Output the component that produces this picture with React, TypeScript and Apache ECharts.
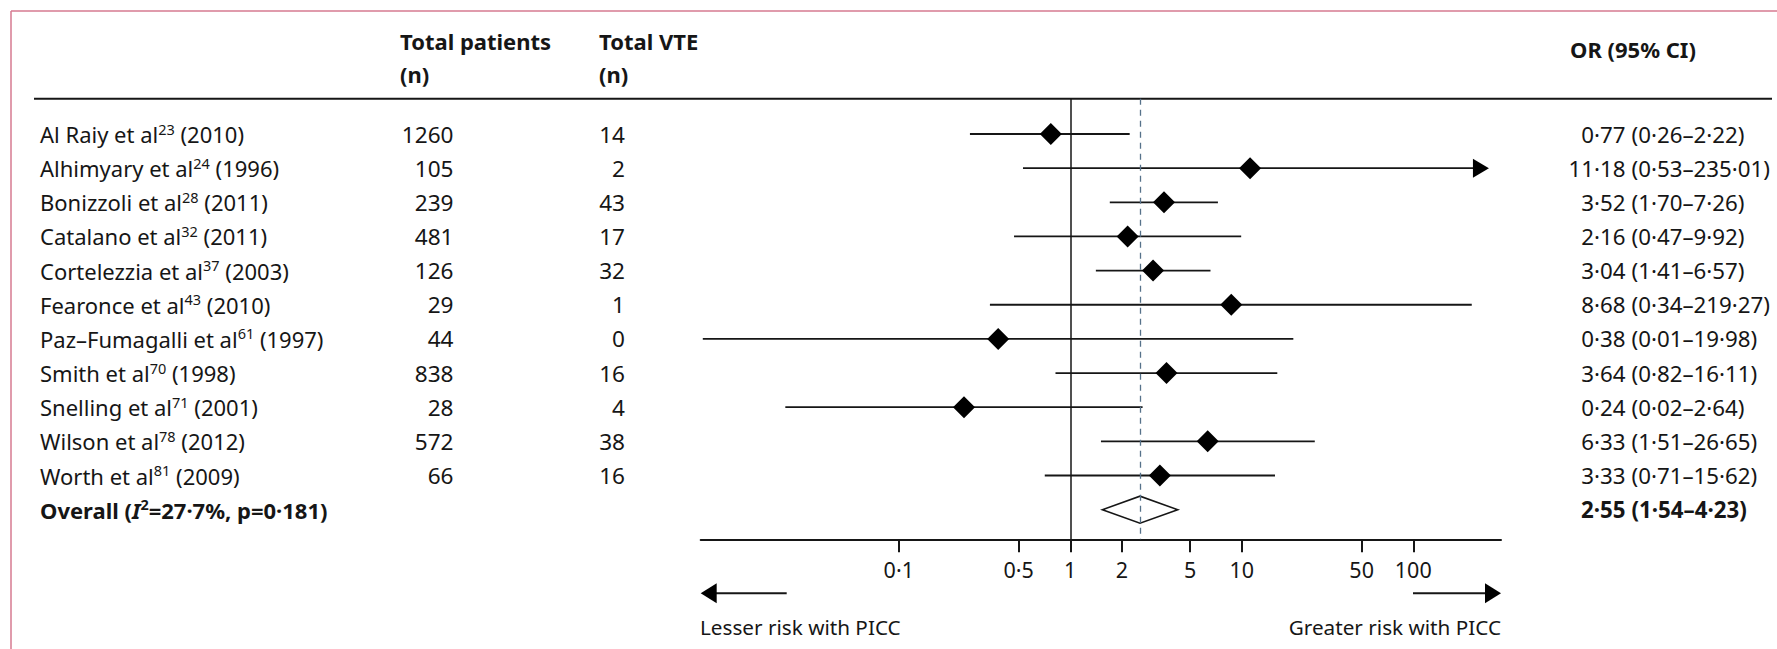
import React, { useEffect, useRef } from 'react';
import * as echarts from 'echarts';

const FONT = 'Noto Sans';
const INK = '#161616';
const FS = 22;
const FS_NUM = 22.6;
const FS_OR = 22.3;

const studyNames = [
  'Al Raiy et al', 'Alhimyary et al', 'Bonizzoli et al', 'Catalano et al', 'Cortelezzia et al',
  'Fearonce et al', 'Paz–Fumagalli et al', 'Smith et al', 'Snelling et al', 'Wilson et al', 'Worth et al',
];
const refNumbers = ['23', '24', '28', '32', '37', '43', '61', '70', '71', '78', '81'];
const studyYears = ['2010', '1996', '2011', '2011', '2003', '2010', '1997', '1998', '2001', '2012', '2009'];
const totalPatients = [1260, 105, 239, 481, 126, 29, 44, 838, 28, 572, 66];
const totalVTE = [14, 2, 43, 17, 32, 1, 0, 16, 4, 38, 16];
const oddsRatios = [0.77, 11.18, 3.52, 2.16, 3.04, 8.68, 0.38, 3.64, 0.24, 6.33, 3.33];
const ciLower = [0.26, 0.53, 1.7, 0.47, 1.41, 0.34, 0.0072, 0.82, 0.0218, 1.51, 0.71];
const ciUpper = [2.22, 235.01, 7.26, 9.92, 6.57, 219.27, 19.98, 16.11, 2.64, 26.65, 15.62];
const arrowUpper = [false, true, false, false, false, false, false, false, false, false, false];
const overallOR = 2.55;
const overallLower = 1.54;
const overallUpper = 4.23;
const overallI2 = '27·7%';
const overallP = '0·181';
const xTickValues = [0.1, 0.5, 1, 2, 5, 10, 50, 100];
const xRange = [0.007, 324.7];

const fmt = (v: number) => v.toFixed(2).replace('.', '·');
const lg = (v: number) => Math.log10(v);
const nRows = studyNames.length;
const rowIdx = Array.from({ length: nRows + 1 }, (_, i) => i);

const baseText = { fontFamily: FONT, fontSize: FS, color: INK, lineHeight: 26 };
const supText = { fontFamily: FONT, fontSize: 14.5, color: INK, lineHeight: 20, verticalAlign: 'top' };
const orText = { fontFamily: FONT, fontSize: FS_OR, color: INK, lineHeight: 26 };
const richStyles = {
  n: baseText,
  s: supText,
  b: { ...baseText, fontWeight: 'bold' },
  bi: { ...baseText, fontWeight: 'bold', fontStyle: 'italic' },
  bs: { ...supText, fontWeight: 'bold' },
  o: orText,
  ob: { ...orText, fontWeight: 'bold' },
};

const yCommon = {
  type: 'value',
  min: -1.0337,
  max: 11.868,
  inverse: true,
  axisLine: { show: false },
  axisTick: { show: false },
  splitLine: { show: false },
};

export default function App() {
  const ref = useRef<HTMLDivElement>(null);
  useEffect(() => {
    if (!ref.current) return;
    const chart = echarts.init(ref.current, undefined, { renderer: 'svg' });

    const forestData = studyNames.map((_, i) => [
      lg(oddsRatios[i]), lg(ciLower[i]), lg(ciUpper[i]), i, arrowUpper[i] ? 1 : 0, 0,
    ]);
    forestData.push([lg(overallOR), lg(overallLower), lg(overallUpper), nRows, 0, 1]);

    const nameLabel = (v: number) => {
      const i = Math.round(v);
      if (i < nRows) return `{n|${studyNames[i]}}{s|${refNumbers[i]}}{n| (${studyYears[i]})}`;
      if (i === nRows) return `{b|Overall (}{bi|I}{bs|2}{b|=${overallI2}, p=${overallP})}`;
      return '';
    };
    const colLabel = (arr: (number | string)[]) => (v: number) => {
      const i = Math.round(v);
      return i < arr.length ? String(arr[i]) : '';
    };
    const orLabel = (v: number) => {
      const i = Math.round(v);
      if (i < nRows) return `{o|${fmt(oddsRatios[i])}}`;
      if (i === nRows) return `{ob|${fmt(overallOR)}}`;
      return '';
    };
    const ciLabel = (v: number) => {
      const i = Math.round(v);
      if (i < nRows) return `{o|(${fmt(ciLower[i])}–${fmt(ciUpper[i])})}`;
      if (i === nRows) return `{ob|(${fmt(overallLower)}–${fmt(overallUpper)})}`;
      return '';
    };

    const gridLeft = 700.7;
    const gridRight = 1777 - 1501;
    const headStyle = { fontFamily: FONT, fontSize: FS, fontWeight: 'bold', fill: INK, textVerticalAlign: 'middle' };

    const option = {
      animation: false,
      backgroundColor: '#ffffff',
      grid: { left: gridLeft, right: gridRight, top: 98.7, bottom: 649 - 539.3, containLabel: false },
      xAxis: {
        type: 'value',
        position: 'bottom',
        min: lg(xRange[0]),
        max: lg(xRange[1]),
        axisLine: { show: true, onZero: false, lineStyle: { color: INK, width: 2 } },
        axisTick: {
          show: true,
          length: 13,
          customValues: xTickValues.map(lg),
          lineStyle: { color: INK, width: 2 },
        },
        axisLabel: {
          show: true,
          customValues: xTickValues.map(lg),
          margin: 19,
          fontFamily: FONT,
          fontSize: 21.5,
          color: INK,
          formatter: (v: number) => String(Number(Math.pow(10, v).toPrecision(6))).replace('.', '·'),
        },
        splitLine: { show: false },
      },
      yAxis: [
        {
          ...yCommon,
          position: 'left',
          axisLabel: {
            customValues: rowIdx, align: 'left', margin: gridLeft - 40,
            formatter: nameLabel, rich: richStyles,
          },
        },
        {
          ...yCommon,
          position: 'left',
          axisLabel: {
            customValues: rowIdx, align: 'right', margin: gridLeft - 453.5,
            formatter: colLabel(totalPatients), fontFamily: FONT, fontSize: FS_NUM, color: INK,
          },
        },
        {
          ...yCommon,
          position: 'left',
          axisLabel: {
            customValues: rowIdx, align: 'right', margin: gridLeft - 625,
            formatter: colLabel(totalVTE), fontFamily: FONT, fontSize: FS_NUM, color: INK,
          },
        },
        {
          ...yCommon,
          position: 'right',
          axisLabel: {
            customValues: rowIdx, align: 'right', margin: 1625.5 - 1501,
            formatter: orLabel, rich: richStyles,
          },
        },
        {
          ...yCommon,
          position: 'right',
          axisLabel: {
            customValues: rowIdx, align: 'left', margin: 1631.5 - 1501,
            formatter: ciLabel, rich: richStyles,
          },
        },
      ],
      series: [
        {
          type: 'line',
          data: [],
          z: 1,
          silent: true,
          markLine: {
            silent: true,
            symbol: ['none', 'none'],
            label: { show: false },
            animation: false,
            data: [
              { xAxis: lg(1), lineStyle: { color: INK, width: 1.5, type: 'solid' } },
              { xAxis: lg(overallOR), lineStyle: { color: '#56728a', width: 1.3, type: [6, 5] } },
            ],
          },
        },
        {
          type: 'custom',
          z: 3,
          silent: true,
          data: forestData,
          renderItem: (_params: any, api: any) => {
            const row = api.value(3);
            const c = api.coord([api.value(0), row]);
            const lo = api.coord([api.value(1), row]);
            const hi = api.coord([api.value(2), row]);
            const y = c[1];
            if (api.value(5) === 1) {
              return {
                type: 'polygon',
                shape: { points: [[lo[0], y], [c[0], y - 13.5], [hi[0], y], [c[0], y + 13.5]] },
                style: { fill: '#ffffff', stroke: INK, lineWidth: 1.6 },
              };
            }
            const children: any[] = [
              { type: 'line', shape: { x1: lo[0], y1: y, x2: hi[0], y2: y }, style: { stroke: INK, lineWidth: 1.8 } },
            ];
            if (api.value(4) === 1) {
              children.push({
                type: 'polygon',
                shape: { points: [[hi[0] - 4, y - 9.5], [hi[0] + 12, y], [hi[0] - 4, y + 9.5]] },
                style: { fill: '#000' },
              });
            }
            children.push({
              type: 'polygon',
              shape: { points: [[c[0] - 11, y], [c[0], y - 11], [c[0] + 11, y], [c[0], y + 11]] },
              style: { fill: '#000' },
            });
            return { type: 'group', children };
          },
        },
      ],
      graphic: [
        { type: 'line', shape: { x1: 11, y1: 11, x2: 1777, y2: 11 }, style: { stroke: '#d67a90', lineWidth: 1.5 } },
        { type: 'line', shape: { x1: 11, y1: 11, x2: 11, y2: 649 }, style: { stroke: '#d67a90', lineWidth: 1.5 } },
        { type: 'line', shape: { x1: 34, y1: 98.7, x2: 1772, y2: 98.7 }, style: { stroke: INK, lineWidth: 2 } },
        { type: 'text', x: 400, y: 40.5, style: { text: 'Total patients', ...headStyle } },
        { type: 'text', x: 400, y: 73.5, style: { text: '(n)', ...headStyle } },
        { type: 'text', x: 599, y: 40.5, style: { text: 'Total VTE', ...headStyle } },
        { type: 'text', x: 599, y: 73.5, style: { text: '(n)', ...headStyle } },
        { type: 'text', x: 1570, y: 48.5, style: { text: 'OR (95% CI)', ...headStyle } },
        { type: 'line', shape: { x1: 714, y1: 593.3, x2: 786.7, y2: 593.3 }, style: { stroke: INK, lineWidth: 2 } },
        { type: 'polygon', shape: { points: [[700.7, 593.3], [716.7, 583.3], [716.7, 603.3]] }, style: { fill: '#000' } },
        { type: 'line', shape: { x1: 1413, y1: 593.3, x2: 1487, y2: 593.3 }, style: { stroke: INK, lineWidth: 2 } },
        { type: 'polygon', shape: { points: [[1501, 593.3], [1485, 583.3], [1485, 603.3]] }, style: { fill: '#000' } },
        { type: 'text', x: 700, y: 626.7, style: { text: 'Lesser risk with PICC', fontFamily: FONT, fontSize: 20.7, fill: INK, textVerticalAlign: 'middle', textAlign: 'left' } },
        { type: 'text', x: 1501, y: 626.7, style: { text: 'Greater risk with PICC', fontFamily: FONT, fontSize: 20.7, fill: INK, textVerticalAlign: 'middle', textAlign: 'right' } },
      ],
    };

    chart.setOption(option as any);
    return () => chart.dispose();
  }, []);

  return (
    <div
      ref={ref}
      style={{ position: 'absolute', left: 0, top: 0, width: 1777, height: 649, background: '#fff' }}
    />
  );
}
